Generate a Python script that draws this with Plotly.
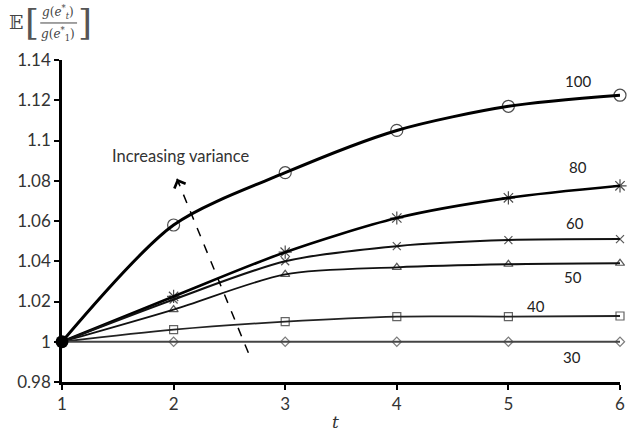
import plotly.graph_objects as go

t = [1, 2, 3, 4, 5, 6]
variances = ["100", "80", "60", "50", "40", "30"]
v100 = [1.0, 1.058, 1.084, 1.105, 1.117, 1.1225]
v80 = [1.0, 1.0225, 1.0445, 1.0615, 1.0715, 1.0775]
v60 = [1.0, 1.021, 1.040, 1.0475, 1.0505, 1.051]
v50 = [1.0, 1.016, 1.0335, 1.037, 1.0385, 1.039]
v40 = [1.0, 1.006, 1.010, 1.0125, 1.0125, 1.0128]
v30 = [1.0, 1.0, 1.0, 1.0, 1.0, 1.0]
series = [v100, v80, v60, v50, v40, v30]

label_x = [5.62, 5.62, 5.6, 5.58, 5.25, 5.57]
label_y = [1.1295, 1.087, 1.059, 1.032, 1.018, 0.9925]

symbols = ["circle-open", "asterisk-open", "x-thin-open", "triangle-up-open", "square-open", "diamond-open"]
msizes = [12, 11, 8, 8, 8, 7]
widths = [3, 2.6, 2, 1.8, 1.8, 1.8]
colors = ["#000", "#000", "#111", "#111", "#222", "#444"]

fig = go.Figure()
for name, ys, sym, ms, w, c in zip(variances, series, symbols, msizes, widths, colors):
    fig.add_trace(go.Scatter(
        x=t, y=ys, mode="lines+markers", name=name,
        line=dict(color=c, width=w, shape="spline", smoothing=0.8),
        marker=dict(symbol=[sym] * len(t), size=[0] + [ms] * (len(t) - 1),
                    color=c, line=dict(color=c, width=1.2)),
        cliponaxis=False, showlegend=False,
    ))
# starting point dot
fig.add_trace(go.Scatter(x=[t[0]], y=[v30[0]], mode="markers",
                         marker=dict(symbol="circle", size=13, color="#000"),
                         cliponaxis=False, showlegend=False))

for name, lx, ly in zip(variances, label_x, label_y):
    fig.add_annotation(x=lx, y=ly, text=name, showarrow=False,
                       font=dict(family="Lato, Open Sans, sans-serif", size=15, color="#222"))

# Increasing variance arrow
arrow_tail = (2.67, 0.9945)
arrow_head = (2.03, 1.081)
fig.add_shape(type="line", x0=arrow_tail[0], y0=arrow_tail[1], x1=arrow_head[0], y1=arrow_head[1],
              line=dict(color="#000", width=1.5, dash="dash"))
fig.add_annotation(x=arrow_head[0], y=arrow_head[1], ax=2.06, ay=1.077, axref="x", ayref="y",
                   xref="x", yref="y", text="", showarrow=True, arrowhead=4, arrowsize=1.8,
                   arrowwidth=1.3, arrowcolor="#000")
fig.add_annotation(x=2.07, y=1.0925, text="Increasing variance", showarrow=False,
                   font=dict(family="Lato, Open Sans, sans-serif", size=16.5, color="#333"))

# y-axis title (expectation of ratio)
serif = "DejaVu Serif, Liberation Serif, serif"
title_parts = [
    (-0.083, 1.118, "𝔼", 19, "#444"),
    (-0.053, 1.115, "[", 36, "#555"),
    (0.041, 1.115, "]", 36, "#555"),
    (-0.007, 1.150, "<i>g</i>(<i>e</i><sup>*</sup><sub><i>t</i></sub>)", 12, "#444"),
    (-0.007, 1.080, "<i>g</i>(<i>e</i><sup>*</sup><sub>1</sub>)", 12, "#444"),
]
for px, py, txt, fs, col in title_parts:
    fig.add_annotation(xref="paper", yref="paper", x=px, y=py, xanchor="center", yanchor="middle",
                       text=txt, showarrow=False, font=dict(family=serif, size=fs, color=col))
fig.add_shape(type="line", xref="paper", yref="paper", x0=-0.039, x1=0.027, y0=1.115, y1=1.115,
              line=dict(color="#444", width=1))

fig.add_annotation(xref="paper", yref="paper", x=0.49, y=-0.124, xanchor="center", yanchor="middle",
                   text="<i>t</i>", showarrow=False,
                   font=dict(family=serif, size=17, color="#333"))

tick_font = dict(family="Lato, Open Sans, sans-serif", size=17, color="#333")
fig.update_xaxes(range=[1, 6], tickvals=t, ticks="outside", ticklen=5, tickwidth=2,
                 tickcolor="#000", showline=True, linecolor="#000", linewidth=2.5,
                 showgrid=False, zeroline=False, tickfont=tick_font)
fig.update_yaxes(range=[0.98, 1.14], tickvals=[0.98, 1.0, 1.02, 1.04, 1.06, 1.08, 1.1, 1.12, 1.14],
                 ticktext=["0.98", "1", "1.02", "1.04", "1.06", "1.08", "1.1", "1.12", "1.14"],
                 ticks="outside", ticklen=5, tickwidth=2, tickcolor="#000",
                 showline=True, linecolor="#000", linewidth=2.5, showgrid=False, zeroline=False,
                 tickfont=tick_font)

fig.update_layout(width=632, height=432, margin=dict(l=62, r=7, t=60, b=50),
                  plot_bgcolor="white", paper_bgcolor="white")

fig.write_html("out.html")
